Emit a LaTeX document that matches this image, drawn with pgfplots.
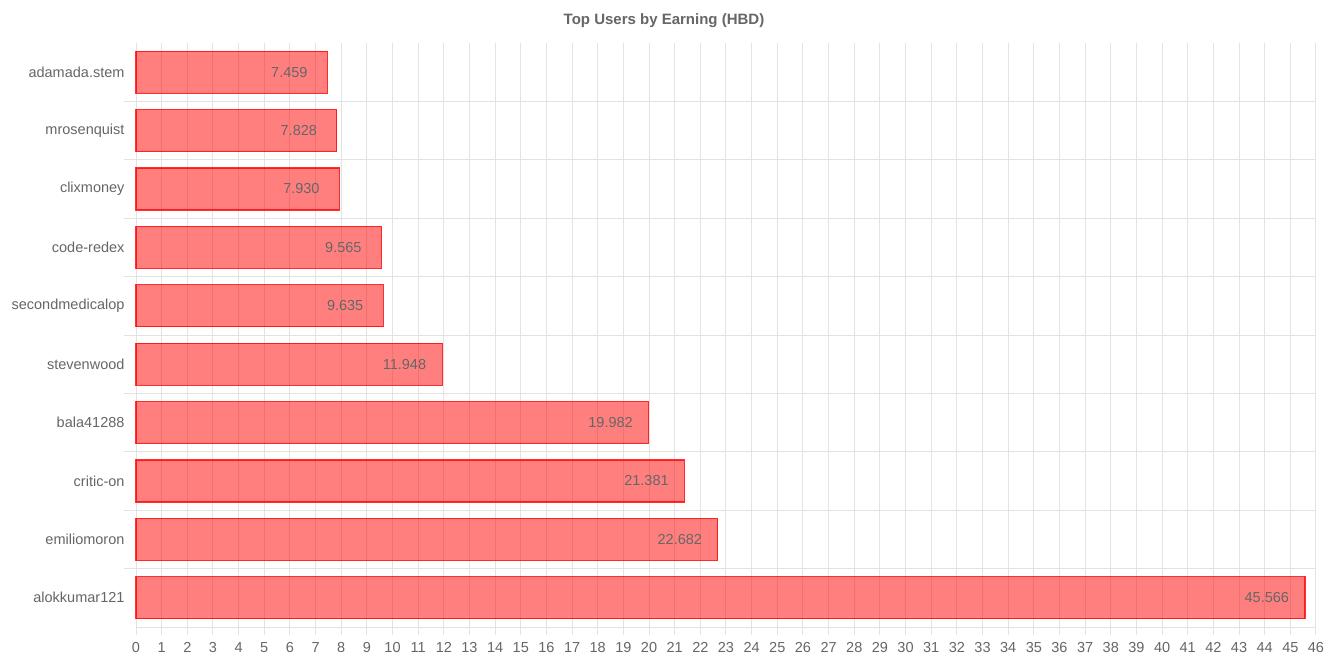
\documentclass[border=0pt]{standalone}
\usepackage{pgfplots}
\pgfplotsset{compat=1.18}
\usepackage{pgfplotstable}
\usepackage{fontspec}
\setmainfont{Liberation Sans}
\definecolor{gridgray}{HTML}{E3E3E3}
\definecolor{txtgray}{HTML}{666666}
\pgfplotstableread{
idx val lab
0 7.459 7.459
1 7.828 7.828
2 7.930 7.930
3 9.565 9.565
4 9.635 9.635
5 11.948 11.948
6 19.982 19.982
7 21.381 21.381
8 22.682 22.682
9 45.566 45.566
}\datatable
\begin{document}
\begin{tikzpicture}
\useasboundingbox[fill=white] (0,0) rectangle (1327pt,663pt);
\node[font=\fontsize{15}{17}\selectfont\bfseries, text=txtgray] at (664pt,642pt) {Top Users by Earning (HBD)};
\begin{axis}[
  at={(136pt,36pt)}, anchor=south west,
  scale only axis, width=1180pt, height=584pt,
  xmin=0, xmax=46, ymin=-0.5, ymax=9.5, y dir=reverse,
  axis x line*=bottom, axis y line*=left,
  axis line style={draw=gridgray, line width=1pt, -},
  xtick={0,...,46},
  xmajorgrids,
  grid style={draw=gridgray, line width=1pt},
  tick align=outside,
  major tick length=8pt,
  xtick style={draw=gridgray, line width=1pt},
  ytick={0,...,9},
  yticklabels={adamada.stem,mrosenquist,clixmoney,code-redex,secondmedicalop,stevenwood,bala41288,critic-on,emiliomoron,alokkumar121},
  ytick style={draw=none},
  extra y ticks={0.5,1.5,...,8.5},
  extra y tick labels={},
  extra y tick style={ymajorgrids, ytick style={draw=gridgray, line width=1pt}, major tick length=12pt},
  tick label style={font=\fontsize{14.5}{17}\selectfont, text=txtgray},
  /pgf/number format/assume math mode=true,
  yticklabel style={xshift=0pt},
  xticklabel style={yshift=-4pt},
  clip=false,
]
\addplot[xbar, bar width=42pt, draw=red, line width=1.3pt, fill=red, fill opacity=0.5, draw opacity=0.8,
  nodes near coords, point meta=explicit symbolic,
  nodes near coords style={anchor=center, xshift=-38pt, text=txtgray, text opacity=1, font=\fontsize{14.5}{17}\selectfont}]
  table[x=val, y=idx, meta=lab] {\datatable};
\end{axis}
\end{tikzpicture}
\end{document}
